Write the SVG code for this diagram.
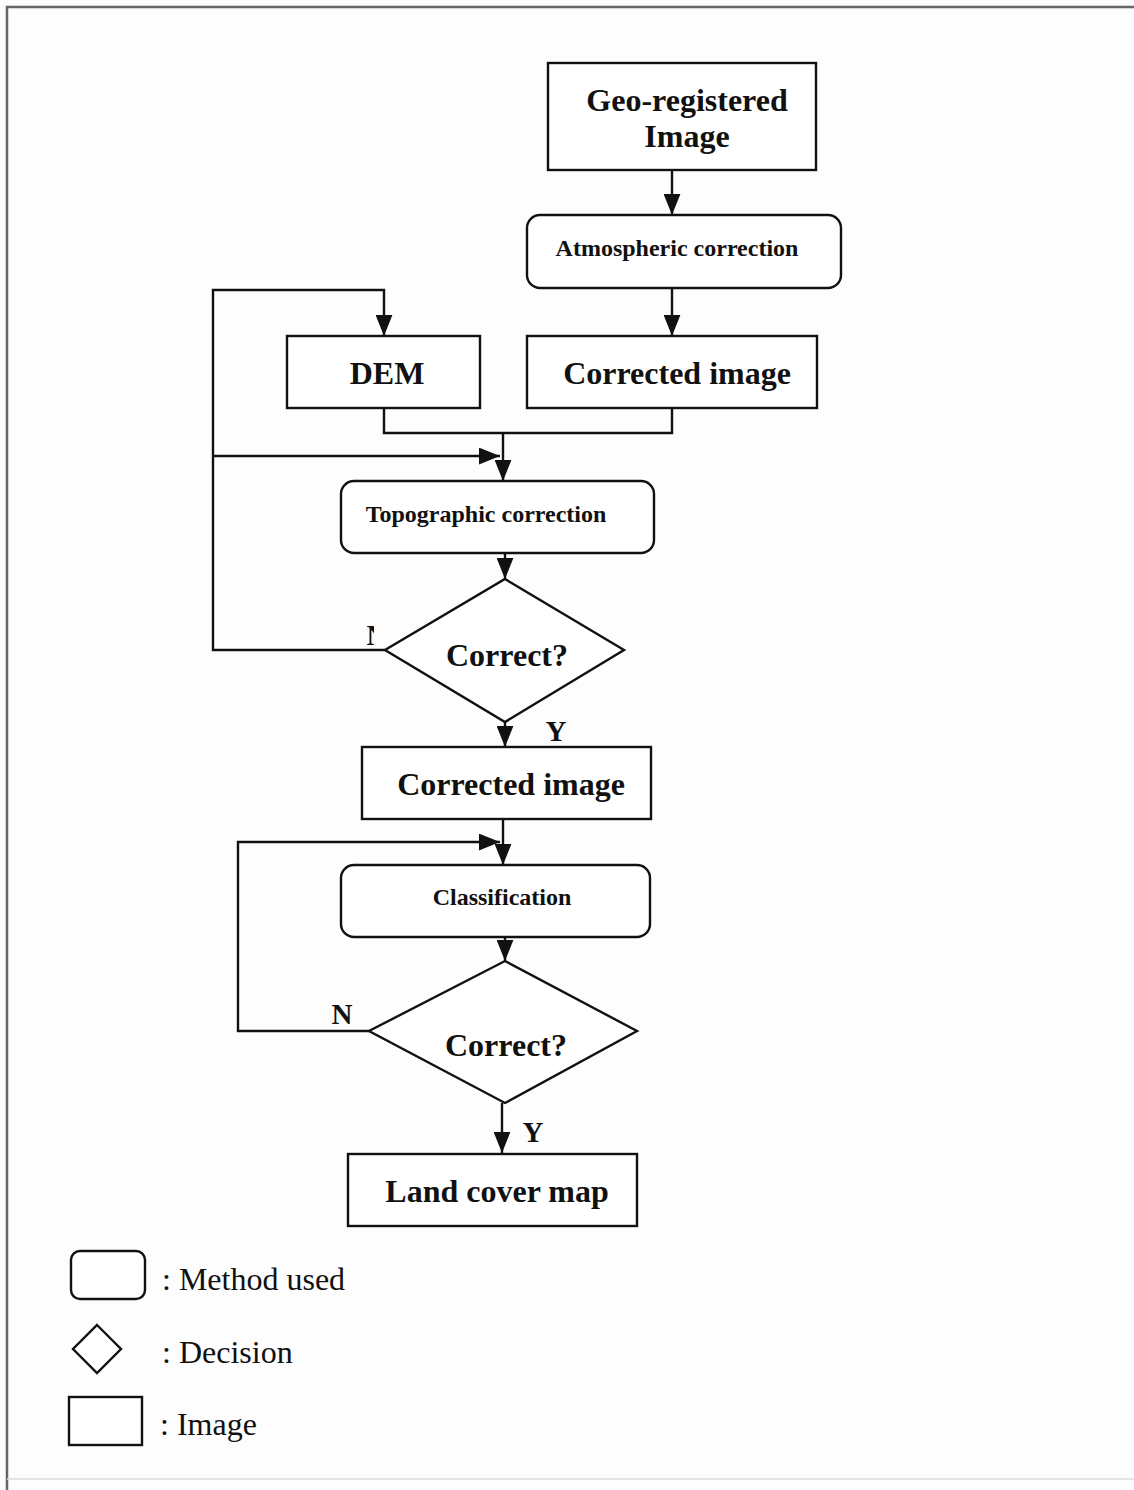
<svg xmlns="http://www.w3.org/2000/svg" width="1134" height="1490" viewBox="0 0 1134 1490">
<style>
.box{fill:#fff;stroke:#111;stroke-width:2.4}
.con{fill:none;stroke:#111;stroke-width:2.4}
.t{font-family:"Liberation Serif","Times New Roman",serif;font-weight:bold;fill:#111;text-anchor:middle}
.big{font-size:32px}
.small{font-size:24px}
.lab{font-family:"Liberation Serif","Times New Roman",serif;font-weight:bold;fill:#111;font-size:29px}
.leg{font-family:"Liberation Serif","Times New Roman",serif;fill:#111;font-size:32px}
</style>
<defs>
<marker id="ah" viewBox="0 0 20 16" refX="20" refY="8" markerWidth="21" markerHeight="17" markerUnits="userSpaceOnUse" orient="auto">
<path d="M0,0 L20,8 L0,16 z" fill="#111"/>
</marker>
<clipPath id="clipN"><rect x="300" y="600" width="74" height="60"/></clipPath>
</defs>
<rect x="0" y="0" width="1134" height="1490" fill="#fdfdfd"/>
<g id="page-border">
<line x1="6" y1="7" x2="1134" y2="7" stroke="#666" stroke-width="2.5"/>
<line x1="7" y1="6" x2="7" y2="1490" stroke="#666" stroke-width="2.5"/>
<line x1="7" y1="1479" x2="1134" y2="1479" stroke="#ddd" stroke-width="1.5"/>
</g>
<g id="connectors">
<path class="con" d="M672,170 V215" marker-end="url(#ah)"/>
<path class="con" d="M672,288 V336" marker-end="url(#ah)"/>
<path class="con" d="M385,650 H213 V290 H384 V336" marker-end="url(#ah)"/>
<path class="con" d="M384,408 V433 H672 V408"/>
<path class="con" d="M503,433 V481" marker-end="url(#ah)"/>
<path class="con" d="M213,456 H500" marker-end="url(#ah)"/>
<path class="con" d="M505,553 V579" marker-end="url(#ah)"/>
<path class="con" d="M505,722 V747" marker-end="url(#ah)"/>
<path class="con" d="M503,819 V865" marker-end="url(#ah)"/>
<path class="con" d="M369,1031 H238 V842 H500" marker-end="url(#ah)"/>
<path class="con" d="M505,937 V961" marker-end="url(#ah)"/>
<path class="con" d="M502,1103 V1153" marker-end="url(#ah)"/>
<text class="lab" x="556" y="741" text-anchor="middle">Y</text>
<text class="lab" x="533" y="1142" text-anchor="middle">Y</text>
<text class="lab" x="342" y="1024" text-anchor="middle">N</text>
<text class="lab" x="377" y="645" text-anchor="middle" clip-path="url(#clipN)">N</text>
</g>
<g id="geo-image">
<rect class="box" x="548" y="63" width="268" height="107"/>
<text class="t big" x="687" y="111">Geo-registered</text>
<text class="t big" x="687" y="147">Image</text>
</g>
<g id="atmospheric-correction">
<rect class="box" x="527" y="215" width="314" height="73" rx="13"/>
<text class="t small" x="677" y="256">Atmospheric correction</text>
</g>
<g id="dem">
<rect class="box" x="287" y="336" width="193" height="72"/>
<text class="t big" x="387" y="384">DEM</text>
</g>
<g id="corrected-image-1">
<rect class="box" x="527" y="336" width="290" height="72"/>
<text class="t big" x="677" y="384">Corrected image</text>
</g>
<g id="topographic-correction">
<rect class="box" x="341" y="481" width="313" height="72" rx="13"/>
<text class="t small" x="486" y="522">Topographic correction</text>
</g>
<g id="decision-1">
<polygon class="box" points="505,579 624,650 505,722 385,650"/>
<text class="t big" x="507" y="666">Correct?</text>
</g>
<g id="corrected-image-2">
<rect class="box" x="362" y="747" width="289" height="72"/>
<text class="t big" x="511" y="795">Corrected image</text>
</g>
<g id="classification">
<rect class="box" x="341" y="865" width="309" height="72" rx="13"/>
<text class="t small" x="502" y="905">Classification</text>
</g>
<g id="decision-2">
<polygon class="box" points="505,961 637,1031 505,1103 369,1031"/>
<text class="t big" x="506" y="1056">Correct?</text>
</g>
<g id="land-cover-map">
<rect class="box" x="348" y="1154" width="289" height="72"/>
<text class="t big" x="497" y="1202">Land cover map</text>
</g>
<g id="legend">
<rect class="box" x="71" y="1251" width="74" height="48" rx="9"/>
<text class="leg" x="162" y="1290">: Method used</text>
<polygon class="box" points="97,1325 121,1349 97,1373 73,1349"/>
<text class="leg" x="162" y="1363">: Decision</text>
<rect class="box" x="69" y="1397" width="73" height="48"/>
<text class="leg" x="160" y="1435">: Image</text>
</g>
</svg>
